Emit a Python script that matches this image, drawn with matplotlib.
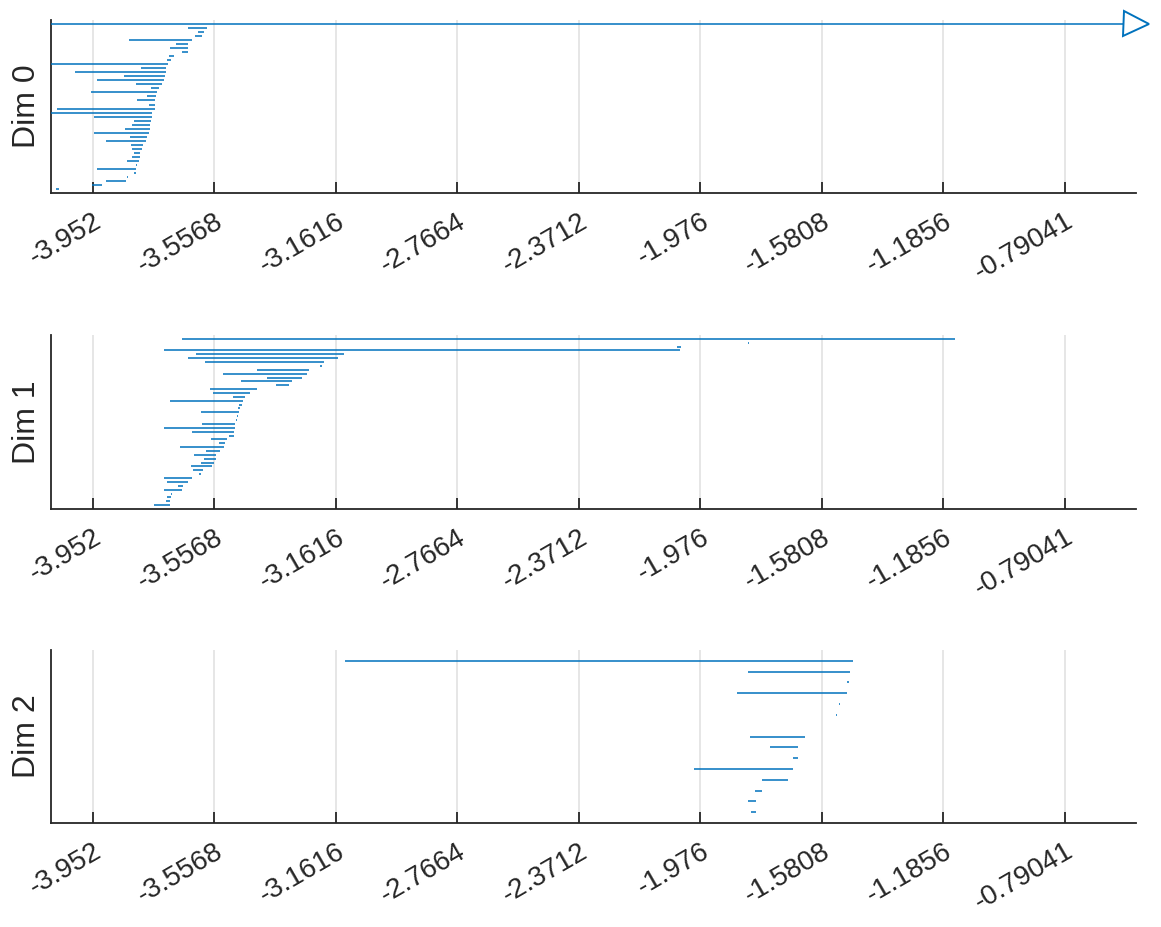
import numpy as np
import matplotlib
matplotlib.use('Agg')
import matplotlib.pyplot as plt
from matplotlib.transforms import ScaledTranslation

BAR = '#0072BD'
INK = '#262626'
GRID = '#dfdfdf'

plt.rcParams['font.family'] = ['Liberation Sans', 'DejaVu Sans']

# persistence intervals, listed from top bar to bottom bar
dim0_birth = [-4.0886, -3.6420, -3.6095, -3.6202, -3.8339, -3.6830, -3.7015, -3.6615,
              -3.7038, -3.7103, -4.0886, -3.7968, -4.0105, -3.8512, -3.9390, -3.8112,
              -3.7624, -3.9595, -3.7773, -3.8089, -3.7698, -4.0681, -4.0886, -3.9487,
              -3.8196, -3.8242, -3.8469, -3.9497, -3.8307, -3.9087, -3.8284, -3.8242,
              -3.8186, -3.8261, -3.8404, -3.8121, -3.9400, -3.8186, -3.8414, -3.9107,
              -3.9562, -4.0724]
dim0_death = [np.inf, -3.5822, -3.5900, -3.5984, -3.6310, -3.6420, -3.6440, -3.6440,
              -3.6885, -3.6993, -3.7071, -3.7146, -3.7155, -3.7178, -3.7220, -3.7266,
              -3.7363, -3.7438, -3.7481, -3.7494, -3.7503, -3.7510, -3.7611, -3.7615,
              -3.7643, -3.7666, -3.7676, -3.7698, -3.7773, -3.7796, -3.7894, -3.7916,
              -3.7991, -3.8001, -3.8034, -3.8089, -3.8112, -3.8131, -3.8372, -3.8437,
              -3.9217, -4.0616]

dim1_birth = [-3.6635, -1.8215, -2.0534, -3.7211, -3.6179, -3.6420, -3.5877, -3.2136,
              -3.4195, -3.5291, -3.3860, -3.4706, -3.3577, -3.5714, -3.5617, -3.4966,
              -3.7015, -3.4771, -3.4804, -3.6017, -3.4836, -3.4859, -3.5984, -3.7201,
              -3.6290, -3.5106, -3.5682, -3.5422, -3.6690, -3.5844, -3.6245, -3.5900,
              -3.6007, -3.6332, -3.6267, -3.6062, -3.7201, -3.7123, -3.6745, -3.7201,
              -3.6983, -3.7103, -3.7146, -3.7536]
dim1_death = [-1.1482, -1.8192, -2.0404, -2.0427, -3.1356, -3.1561, -3.2016, -3.2081,
              -3.2504, -3.2569, -3.2732, -3.3057, -3.3135, -3.4195, -3.4423, -3.4586,
              -3.4651, -3.4683, -3.4729, -3.4771, -3.4813, -3.4836, -3.4901, -3.4901,
              -3.4934, -3.4943, -3.5152, -3.5226, -3.5259, -3.5399, -3.5519, -3.5529,
              -3.5574, -3.5659, -3.5932, -3.6017, -3.6310, -3.6440, -3.6593, -3.6635,
              -3.6960, -3.6993, -3.7006, -3.7015]

dim2_birth = [-3.1323, -1.8205, -1.5004, -1.8563, -1.5255, -1.5352, -1.5483, -1.8150,
              -1.7499, -1.6741, -1.9971, -1.7769, -1.7987, -1.8205, -1.8127]
dim2_death = [-1.4809, -1.4887, -1.4930, -1.4995, -1.5232, -1.5330, -1.5473, -1.6361,
              -1.6588, -1.6598, -1.6761, -1.6914, -1.7769, -1.7955, -1.7964]

tick_values = [-3.952, -3.5568, -3.1616, -2.7664, -2.3712, -1.976, -1.5808, -1.1856, -0.79041]
tick_labels = ['-3.952', '-3.5568', '-3.1616', '-2.7664', '-2.3712', '-1.976',
               '-1.5808', '-1.1856', '-0.79041']

XMIN, XMAX = -4.0886, -0.5594

fig = plt.figure(figsize=(11.61, 9.27), dpi=100)
fig.patch.set_facecolor('white')

panels = [
    ('Dim 0', dim0_birth, dim0_death, [0.0439, 0.7918, 0.9345, 0.1866]),
    ('Dim 1', dim1_birth, dim1_death, [0.0439, 0.4509, 0.9345, 0.1877]),
    ('Dim 2', dim2_birth, dim2_death, [0.0439, 0.1122, 0.9345, 0.1866]),
]

shift = ScaledTranslation(6 / 100, 0, fig.dpi_scale_trans)

for name, birth, death, rect in panels:
    ax = fig.add_axes(rect)
    n = len(birth)
    y = np.arange(n, 0, -1)
    b = np.array(birth)
    d = np.array(death)
    inf = ~np.isfinite(d)
    d_draw = np.where(inf, XMAX, d)
    ax.hlines(y, b, d_draw, color=BAR, lw=1.1, zorder=3)
    if inf.any():
        ax.plot(d_draw[inf], y[inf], marker='>', ms=18, mfc='white', mec=BAR,
                mew=1.4, ls='none', clip_on=False, zorder=4)

    ax.set_xlim(XMIN, XMAX)
    ax.set_ylim(0, n + 1)
    ax.set_xticks(tick_values)
    ax.set_xticklabels(tick_labels, rotation=30, ha='right', va='top',
                       rotation_mode='anchor', fontsize=20, color=INK)
    for lab in ax.get_xticklabels():
        lab.set_transform(lab.get_transform() + shift)
    ax.set_yticks([])
    ax.grid(axis='x', color=GRID, lw=1.1, zorder=0)
    ax.set_axisbelow(True)
    for side in ['top', 'right']:
        ax.spines[side].set_visible(False)
    for side in ['left', 'bottom']:
        ax.spines[side].set_color(INK)
        ax.spines[side].set_linewidth(1.3)
    ax.tick_params(axis='x', direction='in', length=8, width=1.3, color=INK, pad=11)
    ax.text(-0.0225, 0.5, name, transform=ax.transAxes, rotation=90,
            ha='center', va='center', fontsize=23, color=INK)

plt.savefig('out.png', dpi=100, facecolor='white')
